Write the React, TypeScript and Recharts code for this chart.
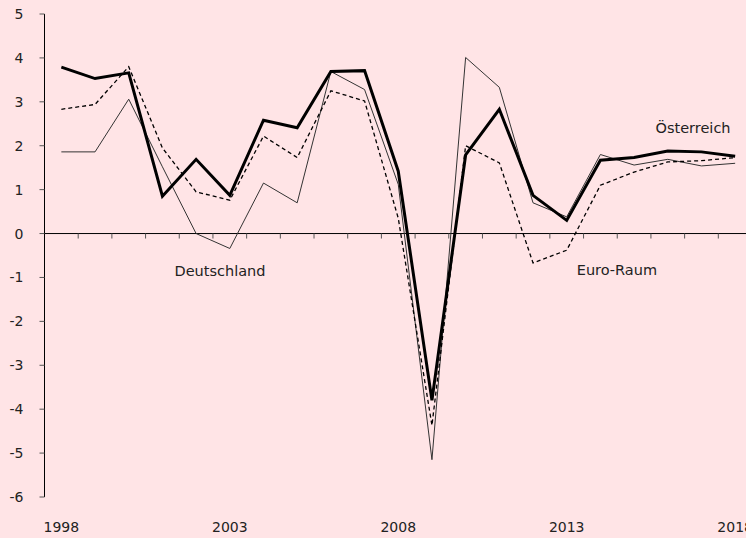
import React from "react";
import { LineChart, Line, XAxis, YAxis, ReferenceLine, ReferenceDot } from "recharts";

const years = [1998, 1999, 2000, 2001, 2002, 2003, 2004, 2005, 2006, 2007, 2008, 2009, 2010, 2011, 2012, 2013, 2014, 2015, 2016, 2017, 2018];
const oesterreich = [3.79, 3.53, 3.66, 0.85, 1.69, 0.87, 2.58, 2.41, 3.69, 3.71, 1.42, -3.8, 1.79, 2.83, 0.87, 0.3, 1.67, 1.73, 1.88, 1.86, 1.76];
const deutschland = [1.86, 1.86, 3.06, 1.52, 0.0, -0.34, 1.15, 0.7, 3.69, 3.28, 1.12, -5.15, 4.01, 3.33, 0.7, 0.38, 1.8, 1.56, 1.69, 1.54, 1.6];
const euroRaum = [2.83, 2.94, 3.8, 1.95, 0.95, 0.76, 2.22, 1.73, 3.25, 3.02, 0.35, -4.37, 2.0, 1.61, -0.67, -0.38, 1.1, 1.4, 1.63, 1.66, 1.73];
const xTickLabels = [1998, 2003, 2008, 2013, 2018];
const yTicks = [-6, -5, -4, -3, -2, -1, 0, 1, 2, 3, 4, 5];

const data = years.map((year, i) => ({
  year,
  oesterreich: oesterreich[i],
  deutschland: deutschland[i],
  euroRaum: euroRaum[i],
}));

const Y_MIN = -6;
const Y_MAX = 5;
const CHART_W = 760;
const CHART_H = 538;
const MARGIN = { top: 14, right: 8, bottom: 0, left: 0.5 };
const X_AXIS_H = 41;
const PLOT_H = CHART_H - MARGIN.top - MARGIN.bottom - X_AXIS_H;
const TICK_PX = 5;
const tickDepth = (TICK_PX * (Y_MAX - Y_MIN)) / PLOT_H;
const boundaries = years.slice(0, -1).map((y) => y + 0.5);

const FONT = "'DejaVu Sans', sans-serif";
const TEXT = "#222";

export default function App() {
  return (
    <div
      style={{
        position: "fixed",
        left: 0,
        top: 0,
        width: 746,
        height: 538,
        overflow: "hidden",
        background: "#ffe4e6",
      }}
    >
      <LineChart width={CHART_W} height={CHART_H} data={data} margin={MARGIN}>
        <XAxis
          dataKey="year"
          type="number"
          domain={[years[0] - 0.5, years[years.length - 1] + 0.5]}
          ticks={xTickLabels}
          axisLine={false}
          tickLine={false}
          tickSize={0}
          tickMargin={25}
          height={X_AXIS_H}
          interval={0}
          tick={{ fill: TEXT, fontSize: 14, fontFamily: FONT }}
        />
        <YAxis
          type="number"
          domain={[Y_MIN, Y_MAX]}
          ticks={yTicks}
          interval={0}
          width={44}
          axisLine={{ stroke: "#000", strokeWidth: 1 }}
          tickLine={{ stroke: "#555", strokeWidth: 1 }}
          tickSize={TICK_PX}
          tickMargin={16}
          tick={{ fill: TEXT, fontSize: 14, fontFamily: FONT }}
        />
        <ReferenceLine y={0} stroke="#000" strokeWidth={1} />
        {boundaries.map((b) => (
          <ReferenceLine
            key={b}
            segment={[
              { x: b, y: 0 },
              { x: b, y: -tickDepth },
            ]}
            stroke="#555"
            strokeWidth={1}
          />
        ))}
        <Line
          dataKey="deutschland"
          stroke="#333"
          strokeWidth={1}
          dot={false}
          isAnimationActive={false}
        />
        <Line
          dataKey="euroRaum"
          stroke="#000"
          strokeWidth={1.3}
          strokeDasharray="4 3"
          dot={false}
          isAnimationActive={false}
        />
        <Line
          dataKey="oesterreich"
          stroke="#000"
          strokeWidth={3}
          dot={false}
          isAnimationActive={false}
        />
        <ReferenceDot
          x={2002.71}
          y={-0.85}
          r={0}
          fill="none"
          stroke="none"
          label={{ value: "Deutschland", position: "center", fill: TEXT, fontSize: 14.5, fontFamily: FONT }}
        />
        <ReferenceDot
          x={2014.49}
          y={-0.83}
          r={0}
          fill="none"
          stroke="none"
          label={{ value: "Euro-Raum", position: "center", fill: TEXT, fontSize: 14.5, fontFamily: FONT }}
        />
        <ReferenceDot
          x={2016.75}
          y={2.4}
          r={0}
          fill="none"
          stroke="none"
          label={{ value: "Österreich", position: "center", fill: TEXT, fontSize: 14.5, fontFamily: FONT }}
        />
      </LineChart>
    </div>
  );
}
